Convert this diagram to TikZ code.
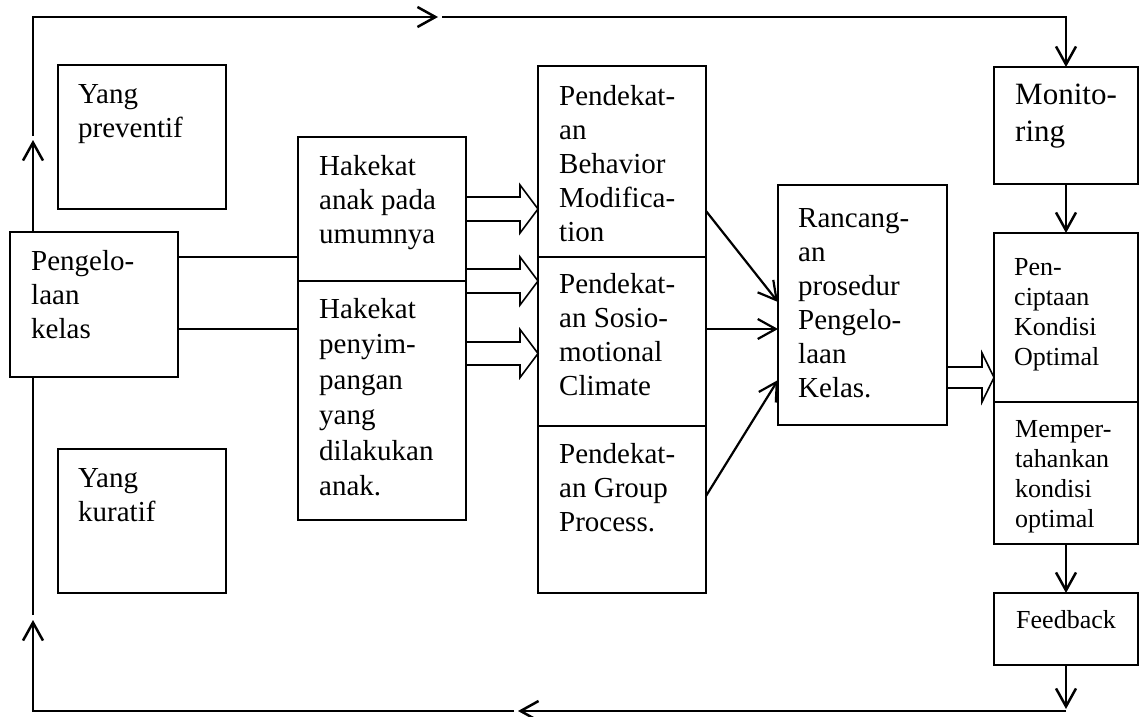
\documentclass[tikz,border=0pt]{standalone}
\usepackage{fontspec}
\setmainfont{Liberation Serif}
\usetikzlibrary{arrows.meta,calc}
\newcommand{\lineone}{\rule{0pt}{25pt}}
\newcommand{\hollowarr}[6]{%
  \coordinate (hT) at (#2.west |- 0,#3);
  \draw[hollow] (#1.east |- 0,{#3-#4}) -- ($(hT)+(-#6,-#4)$) -- ($(hT)+(-#6,-#5)$) -- (hT)
    -- ($(hT)+(-#6,#5)$) -- ($(hT)+(-#6,#4)$) -- (#1.east |- 0,{#3+#4});}
\begin{document}
\begin{tikzpicture}[x=1pt,y=-1pt,
  box/.style={draw, line width=1.6pt, inner sep=0pt, outer sep=0pt, anchor=north west},
  lbl/.style={anchor=north west, inner sep=0pt, align=left, font=\fontsize{29}{34}\selectfont},
  lbls/.style={anchor=north west, inner sep=0pt, align=left, font=\fontsize{26}{30}\selectfont},
  flow/.style={line width=2.5pt},
  diag/.style={line width=2.2pt},
  tipV/.style={-{Straight Barb[length=18pt,width=20pt]}},
  conn/.style={line width=1.6pt},
  hollow/.style={line width=1.6pt, line join=miter},
]
\useasboundingbox (0,0) rectangle (1140,717);

% boxes
\node[box, minimum width=168pt, minimum height=144pt] (prev) at (58,65) {};
\node[box, minimum width=168pt, minimum height=144pt] (kur) at (58,449) {};
\node[box, minimum width=168pt, minimum height=145pt] (peng) at (10,232) {};
\node[box, minimum width=168pt, minimum height=144pt] (hak1) at (298,137) {};
\node[box, minimum width=168pt, minimum height=239pt] (hak2) at (298,281) {};
\node[box, minimum width=168pt, minimum height=191pt] (beh) at (538,66) {};
\node[box, minimum width=168pt, minimum height=169pt] (sos) at (538,257) {};
\node[box, minimum width=168pt, minimum height=167pt] (grp) at (538,426) {};
\node[box, minimum width=169pt, minimum height=240pt] (ran) at (778,185) {};
\node[box, minimum width=144pt, minimum height=117pt] (mon) at (994,67) {};
\node[box, minimum width=144pt, minimum height=169pt] (pen) at (994,233) {};
\node[box, minimum width=144pt, minimum height=142pt] (mem) at (994,402) {};
\node[box, minimum width=144pt, minimum height=72pt] (fb) at (994,593) {};

% labels
\node[lbl] (tprev) at (78,78) {\lineone Yang\\preventif};
\node[lbl] (tkur) at (78,462) {\lineone Yang\\kuratif};
\node[lbl] (tpeng) at (31,245) {\lineone Pengelo-\\laan\\kelas};
\node[lbl] (thak1) at (319,150) {\lineone Hakekat\\anak pada\\umumnya};
\node[lbl, font=\fontsize{29}{35.5}\selectfont] (thak2) at (319,293) {\lineone Hakekat\\penyim-\\pangan\\yang\\dilakukan\\anak.};
\node[lbl] (tbeh) at (559,80) {\lineone Pendekat-\\an\\Behavior\\Modifica-\\tion};
\node[lbl] (tsos) at (559,268) {\lineone Pendekat-\\an Sosio-\\motional\\Climate};
\node[lbl] (tgrp) at (559,438) {\lineone Pendekat-\\an Group\\Process.};
\node[lbl] (tran) at (798,202) {\lineone Rancang-\\an\\prosedur\\Pengelo-\\laan\\Kelas.};
\node[lbl, font=\fontsize{31}{37}\selectfont] (tmon) at (1015,79) {\lineone Monito-\\ring};
\node[lbls] (tpen) at (1014,250) {\lineone Pen-\\ciptaan\\Kondisi\\Optimal};
\node[lbls] (tmem) at (1015,412) {\lineone Memper-\\tahankan\\kondisi\\optimal};
\node[lbls] (tfb) at (1016,603) {\lineone Feedback};

% loop coordinates
\coordinate (lx) at (33,0);
\coordinate (upTipA) at (33,140);
\coordinate (upStartB) at (33,136);
\coordinate (cTL) at (33,17);
\coordinate (topTip) at (438,17);
\coordinate (topRes) at (442,17);
\coordinate (cTR) at (1066,17);
\coordinate (cBR) at (1066,711);
\coordinate (fbTip) at (1066,709);
\coordinate (botTip) at (518,711);
\coordinate (botRes) at (514,711);
\coordinate (cBL) at (33,711);
\coordinate (upTipC) at (33,620);
\coordinate (upResC) at (33,615);

\draw[flow,tipV] (lx |- peng.north) -- (upTipA);
\draw[flow,tipV] (upStartB) -- (cTL) -- (topTip);
\draw[flow,tipV] (topRes) -- (cTR) -- (mon.north);
\draw[flow,tipV] (fb.south) -- (fbTip);
\draw[flow,tipV] (cBR) -- (botTip);
\draw[flow,tipV] (botRes) -- (cBL) -- (upTipC);
\draw[flow] (upResC) -- (lx |- peng.south);

% right column arrows
\draw[flow,tipV] (mon.south) -- (pen.north);
\draw[flow,tipV] (mem.south) -- (fb.north);

% plain connectors
\draw[conn] (peng.east |- 0,257) -- (hak1.west |- 0,257);
\draw[conn] (peng.east |- 0,329) -- (hak2.west |- 0,329);

% diagonal arrows
\draw[diag,tipV] (beh.east |- 0,211) -- (ran.west |- 0,302);
\draw[diag,tipV] (sos.east |- 0,329) -- (ran.west |- 0,329);
\draw[diag,tipV] (grp.east |- 0,496) -- (ran.west |- 0,380);

% hollow arrows
\hollowarr{hak1}{beh}{209}{12}{24}{18}
\hollowarr{hak2}{sos}{281}{12}{24}{18}
\hollowarr{hak2}{sos}{353.5}{11.5}{24}{18}
\hollowarr{ran}{pen}{377.5}{10.5}{24.5}{12}
\end{tikzpicture}
\end{document}
